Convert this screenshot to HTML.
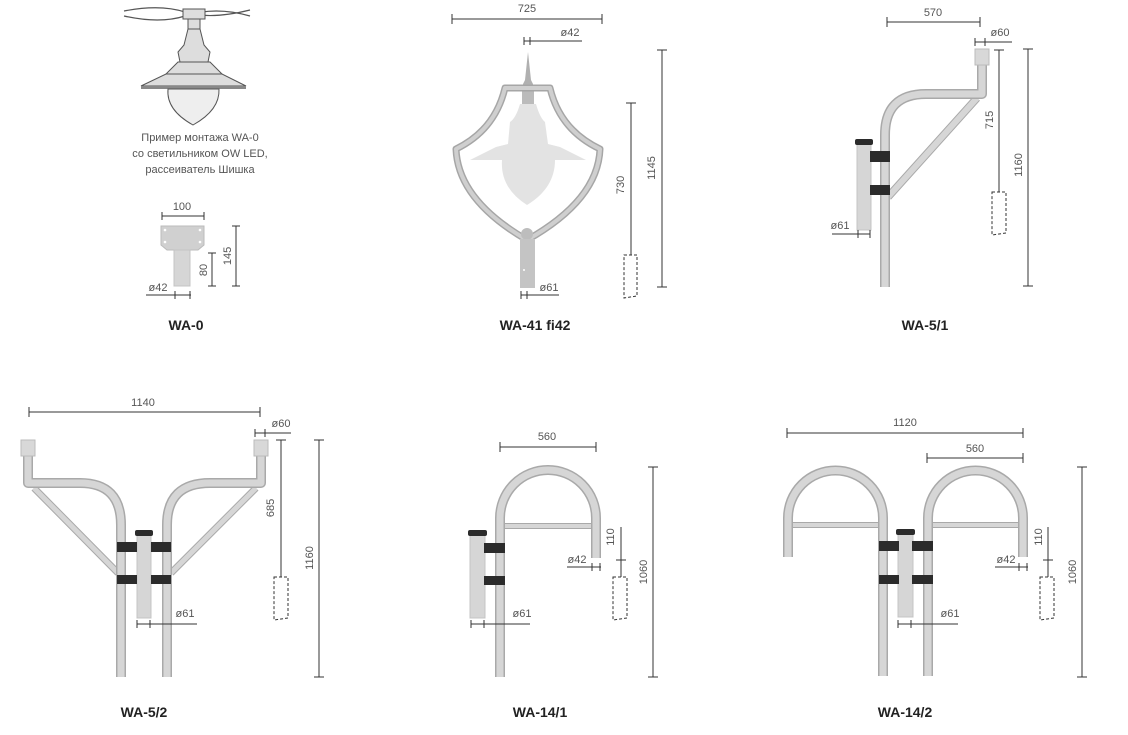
<!DOCTYPE html>
<html><head><meta charset="utf-8"><style>
html,body{margin:0;padding:0;background:#fff;}
svg{display:block;}
text{font-family:"Liberation Sans",sans-serif;font-size:11px;fill:#555;}
.b{font-weight:bold;font-size:14px;fill:#222;}
.d{stroke:#333;stroke-width:1;fill:none;}
.po{fill:none;stroke:#a9a9a9;stroke-linecap:butt;stroke-linejoin:round;}
.pi{fill:none;stroke:#d6d6d6;stroke-linecap:butt;stroke-linejoin:round;}
.dash{fill:#fff;stroke:#333;stroke-width:1;stroke-dasharray:3,2;}
.cl{fill:#2b2b2b;}
</style></head><body>
<svg width="1128" height="735" viewBox="0 0 1128 735" xmlns="http://www.w3.org/2000/svg">

<!-- ===== WA-0 ===== -->
<g>
 <path d="M124,11 Q160,4 185,12 Q210,20 250,10" fill="none" stroke="#555" stroke-width="1.2"/>
 <path d="M124,16 Q160,24 185,16 Q215,6 250,16" fill="none" stroke="#555" stroke-width="1.2"/>
 <rect x="183" y="9" width="22" height="10" fill="#ddd" stroke="#555"/>
 <rect x="188" y="19" width="12" height="10" fill="#ddd" stroke="#555"/>
 <path d="M188,29 L200,29 L204,45 L210,52 L208,62 L180,62 L178,52 L184,45 Z" fill="#ddd" stroke="#555"/>
 <path d="M178,62 L210,62 L222,74 L166,74 Z" fill="#ddd" stroke="#555"/>
 <path d="M166,74 L222,74 L246,86 L141,86 Z" fill="#ddd" stroke="#555"/>
 <rect x="141" y="86" width="105" height="3" fill="#888"/>
 <path d="M168,89 L219,89 Q220,110 193,125 Q166,110 168,89 Z" fill="#eee" stroke="#555"/>
 <text x="200" y="141" text-anchor="middle">Пример монтажа WA-0</text>
 <text x="200" y="157" text-anchor="middle">со светильником OW LED,</text>
 <text x="200" y="173" text-anchor="middle">рассеиватель Шишка</text>
 <text x="182" y="210" text-anchor="middle">100</text>
 <path class="d" d="M162,216 H204 M162,212 V220 M204,212 V220"/>
 <path d="M161,226 H204 V245 L198,250 H167 L161,245 Z" fill="#d0d0d0" stroke="#bbb"/>
 <circle cx="165" cy="230" r="1.3" fill="#fff"/><circle cx="200" cy="230" r="1.3" fill="#fff"/>
 <circle cx="165" cy="242" r="1.3" fill="#fff"/><circle cx="200" cy="242" r="1.3" fill="#fff"/>
 <rect x="174" y="250" width="16" height="36" fill="#d6d6d6" stroke="#c4c4c4"/>
 <path class="d" d="M236,226 V286 M232,226 H240 M232,286 H240"/>
 <text transform="translate(231,256) rotate(-90)" text-anchor="middle">145</text>
 <path class="d" d="M212,253 V286 M208,253 H216 M208,286 H216"/>
 <text transform="translate(207,270) rotate(-90)" text-anchor="middle">80</text>
 <text x="158" y="291" text-anchor="middle">ø42</text>
 <path class="d" d="M146,295 H191 M175,291 V299 M190,291 V299"/>
 <text class="b" x="186" y="330" text-anchor="middle">WA-0</text>
</g>

<!-- ===== WA-41 fi42 ===== -->
<g>
 <text x="527" y="12" text-anchor="middle">725</text>
 <path class="d" d="M452,19 H602 M452,14 V24 M602,14 V24"/>
 <text x="570" y="36" text-anchor="middle">ø42</text>
 <path class="d" d="M524,41 H582 M524,37 V45 M530,37 V45"/>
 <path d="M528,52 L531,80 L533,84 L533,92 L523,92 L523,84 L525,80 Z" fill="#b0b0b0"/>
 <rect x="522" y="88" width="12" height="16" fill="#bbb"/>
 <!-- lamp silhouette -->
 <path d="M520,104 L536,104 Q540,118 545,122 L548,144 L560,147 L586,160 L555,160 Q555,188 527,205 Q500,188 502,160 L470,160 L496,147 L508,144 L510,122 Q516,118 520,104 Z" fill="#e3e3e3"/>
 <path d="M505,88 H550 Q560,130 600,149 Q598,200 527,240 Q458,200 456,149 Q495,130 505,88 Z" fill="none" stroke="#a6a6a6" stroke-width="7" stroke-linejoin="round"/>
 <path d="M505,88 H550 Q560,130 600,149 Q598,200 527,240 Q458,200 456,149 Q495,130 505,88 Z" fill="none" stroke="#cfcfcf" stroke-width="4" stroke-linejoin="round"/>
 <circle cx="527" cy="234" r="6" fill="#bdbdbd"/>
 <rect x="520" y="239" width="15" height="49" fill="#c4c4c4"/>
 <circle cx="524" cy="270" r="1" fill="#fff"/>
 <text x="549" y="291" text-anchor="middle">ø61</text>
 <path class="d" d="M521,295 H559 M521,291 V299 M527,291 V299"/>
 <path class="d" d="M631,103 V255 M626,103 H636"/>
 <text transform="translate(624,185) rotate(-90)" text-anchor="middle">730</text>
 <path class="dash" d="M624,255 H637 V296 L624,298 Z"/>
 <path class="d" d="M662,50 V287 M657,50 H667 M657,287 H667"/>
 <text transform="translate(655,168) rotate(-90)" text-anchor="middle">1145</text>
 <text class="b" x="535" y="330" text-anchor="middle">WA-41 fi42</text>
</g>

<!-- ===== WA-5/1 ===== -->
<g>
 <text x="933" y="16" text-anchor="middle">570</text>
 <path class="d" d="M887,22 H980 M887,17 V27 M980,17 V27"/>
 <text x="1000" y="36" text-anchor="middle">ø60</text>
 <path class="d" d="M975,42 H1012 M975,38 V46 M985,38 V46"/>
 <path class="po" stroke-width="8" d="M888,197 L977,98"/>
 <path class="pi" stroke-width="6" d="M888,197 L977,98"/>
 <path class="po" stroke-width="10" d="M885,287 V135 Q885,94 926,94 H982 V62"/>
 <path class="pi" stroke-width="7" d="M885,287 V135 Q885,94 926,94 H982 V62"/>
 <rect x="975" y="49" width="14" height="16" fill="#d8d8d8" stroke="#bbb"/>
 <rect x="857" y="141" width="14" height="89" fill="#d6d6d6" stroke="#c4c4c4"/>
 <rect x="855" y="139" width="18" height="6" rx="2" class="cl"/>
 <rect x="870" y="151" width="20" height="11" class="cl"/>
 <rect x="870" y="185" width="20" height="10" class="cl"/>
 <text x="840" y="229" text-anchor="middle">ø61</text>
 <path class="d" d="M832,234 H870 M858,230 V238 M870,230 V238"/>
 <path class="d" d="M999,50 V192 M994,50 H1004"/>
 <text transform="translate(993,120) rotate(-90)" text-anchor="middle">715</text>
 <path class="dash" d="M992,192 H1006 V233 L992,235 Z"/>
 <path class="d" d="M1028,49 V286 M1023,49 H1033 M1023,286 H1033"/>
 <text transform="translate(1022,165) rotate(-90)" text-anchor="middle">1160</text>
 <text class="b" x="925" y="330" text-anchor="middle">WA-5/1</text>
</g>

<!-- ===== WA-5/2 ===== -->
<g>
 <text x="143" y="406" text-anchor="middle">1140</text>
 <path class="d" d="M29,412 H260 M29,407 V417 M260,407 V417"/>
 <text x="281" y="427" text-anchor="middle">ø60</text>
 <path class="d" d="M255,433 H291 M255,429 V437 M265,429 V437"/>
 <path class="po" stroke-width="7" d="M34,488 L118,573 M256,488 L171,573"/>
 <path class="pi" stroke-width="5" d="M34,488 L118,573 M256,488 L171,573"/>
 <path class="po" stroke-width="10" d="M28,455 V483 H80 Q121,483 121,525 V677"/>
 <path class="pi" stroke-width="7" d="M28,455 V483 H80 Q121,483 121,525 V677"/>
 <path class="po" stroke-width="10" d="M261,455 V483 H210 Q167,483 167,525 V677"/>
 <path class="pi" stroke-width="7" d="M261,455 V483 H210 Q167,483 167,525 V677"/>
 <rect x="21" y="440" width="14" height="16" fill="#d8d8d8" stroke="#bbb"/>
 <rect x="254" y="440" width="14" height="16" fill="#d8d8d8" stroke="#bbb"/>
 <rect x="137" y="532" width="14" height="86" fill="#d6d6d6" stroke="#c4c4c4"/>
 <rect x="135" y="530" width="18" height="6" rx="2" class="cl"/>
 <rect x="117" y="542" width="20" height="10" class="cl"/><rect x="151" y="542" width="20" height="10" class="cl"/>
 <rect x="117" y="575" width="20" height="9" class="cl"/><rect x="151" y="575" width="20" height="9" class="cl"/>
 <text x="185" y="617" text-anchor="middle">ø61</text>
 <path class="d" d="M137,624 H197 M137,620 V628 M150,620 V628"/>
 <path class="d" d="M281,440 V577 M276,440 H286"/>
 <text transform="translate(274,508) rotate(-90)" text-anchor="middle">685</text>
 <path class="dash" d="M274,577 H288 V618 L274,620 Z"/>
 <path class="d" d="M319,440 V677 M314,440 H324 M314,677 H324"/>
 <text transform="translate(313,558) rotate(-90)" text-anchor="middle">1160</text>
 <text class="b" x="144" y="717" text-anchor="middle">WA-5/2</text>
</g>

<!-- ===== WA-14/1 ===== -->
<g>
 <text x="547" y="440" text-anchor="middle">560</text>
 <path class="d" d="M500,447 H596 M500,442 V452 M596,442 V452"/>
 <path class="po" stroke-width="6" d="M500,526 H596"/>
 <path class="pi" stroke-width="4" d="M500,526 H596"/>
 <path class="po" stroke-width="10" d="M500,677 V518 A48,48 0 0 1 596,518 V558"/>
 <path class="pi" stroke-width="7" d="M500,677 V518 A48,48 0 0 1 596,518 V558"/>
 <rect x="470" y="532" width="15" height="86" fill="#d6d6d6" stroke="#c4c4c4"/>
 <rect x="468" y="530" width="19" height="6" rx="2" class="cl"/>
 <rect x="484" y="543" width="21" height="10" class="cl"/>
 <rect x="484" y="576" width="21" height="9" class="cl"/>
 <text x="522" y="617" text-anchor="middle">ø61</text>
 <path class="d" d="M471,624 H530 M471,620 V628 M484,620 V628"/>
 <text x="577" y="563" text-anchor="middle">ø42</text>
 <path class="d" d="M567,567 H601 M592,563 V571 M600,563 V571"/>
 <path class="d" d="M621,527 V577 M616,560 H626"/>
 <text transform="translate(614,537) rotate(-90)" text-anchor="middle">110</text>
 <path class="dash" d="M613,577 H627 V618 L613,620 Z"/>
 <path class="d" d="M653,467 V677 M648,467 H658 M648,677 H658"/>
 <text transform="translate(647,572) rotate(-90)" text-anchor="middle">1060</text>
 <text class="b" x="540" y="717" text-anchor="middle">WA-14/1</text>
</g>

<!-- ===== WA-14/2 ===== -->
<g>
 <text x="905" y="426" text-anchor="middle">1120</text>
 <path class="d" d="M787,433 H1023 M787,428 V438 M1023,428 V438"/>
 <text x="975" y="452" text-anchor="middle">560</text>
 <path class="d" d="M927,458 H1023 M927,453 V463 M1023,453 V463"/>
 <path class="po" stroke-width="6" d="M791,525 H882 M931,525 H1020"/>
 <path class="pi" stroke-width="4" d="M791,525 H882 M931,525 H1020"/>
 <path class="po" stroke-width="10" d="M788,557 V518 A47.5,47.5 0 0 1 883,518 V676"/>
 <path class="pi" stroke-width="7" d="M788,557 V518 A47.5,47.5 0 0 1 883,518 V676"/>
 <path class="po" stroke-width="10" d="M928,676 V518 A47.5,47.5 0 0 1 1023,518 V557"/>
 <path class="pi" stroke-width="7" d="M928,676 V518 A47.5,47.5 0 0 1 1023,518 V557"/>
 <rect x="898" y="532" width="15" height="85" fill="#d6d6d6" stroke="#c4c4c4"/>
 <rect x="896" y="529" width="19" height="6" rx="2" class="cl"/>
 <rect x="879" y="541" width="20" height="10" class="cl"/><rect x="912" y="541" width="21" height="10" class="cl"/>
 <rect x="879" y="575" width="20" height="9" class="cl"/><rect x="912" y="575" width="21" height="9" class="cl"/>
 <text x="950" y="617" text-anchor="middle">ø61</text>
 <path class="d" d="M898,624 H958 M898,620 V628 M911,620 V628"/>
 <text x="1006" y="563" text-anchor="middle">ø42</text>
 <path class="d" d="M995,567 H1028 M1019,563 V571 M1027,563 V571"/>
 <path class="d" d="M1048,527 V577 M1043,560 H1053"/>
 <text transform="translate(1042,537) rotate(-90)" text-anchor="middle">110</text>
 <path class="dash" d="M1040,577 H1054 V618 L1040,620 Z"/>
 <path class="d" d="M1082,467 V677 M1077,467 H1087 M1077,677 H1087"/>
 <text transform="translate(1076,572) rotate(-90)" text-anchor="middle">1060</text>
 <text class="b" x="905" y="717" text-anchor="middle">WA-14/2</text>
</g>
</svg>
</body></html>
